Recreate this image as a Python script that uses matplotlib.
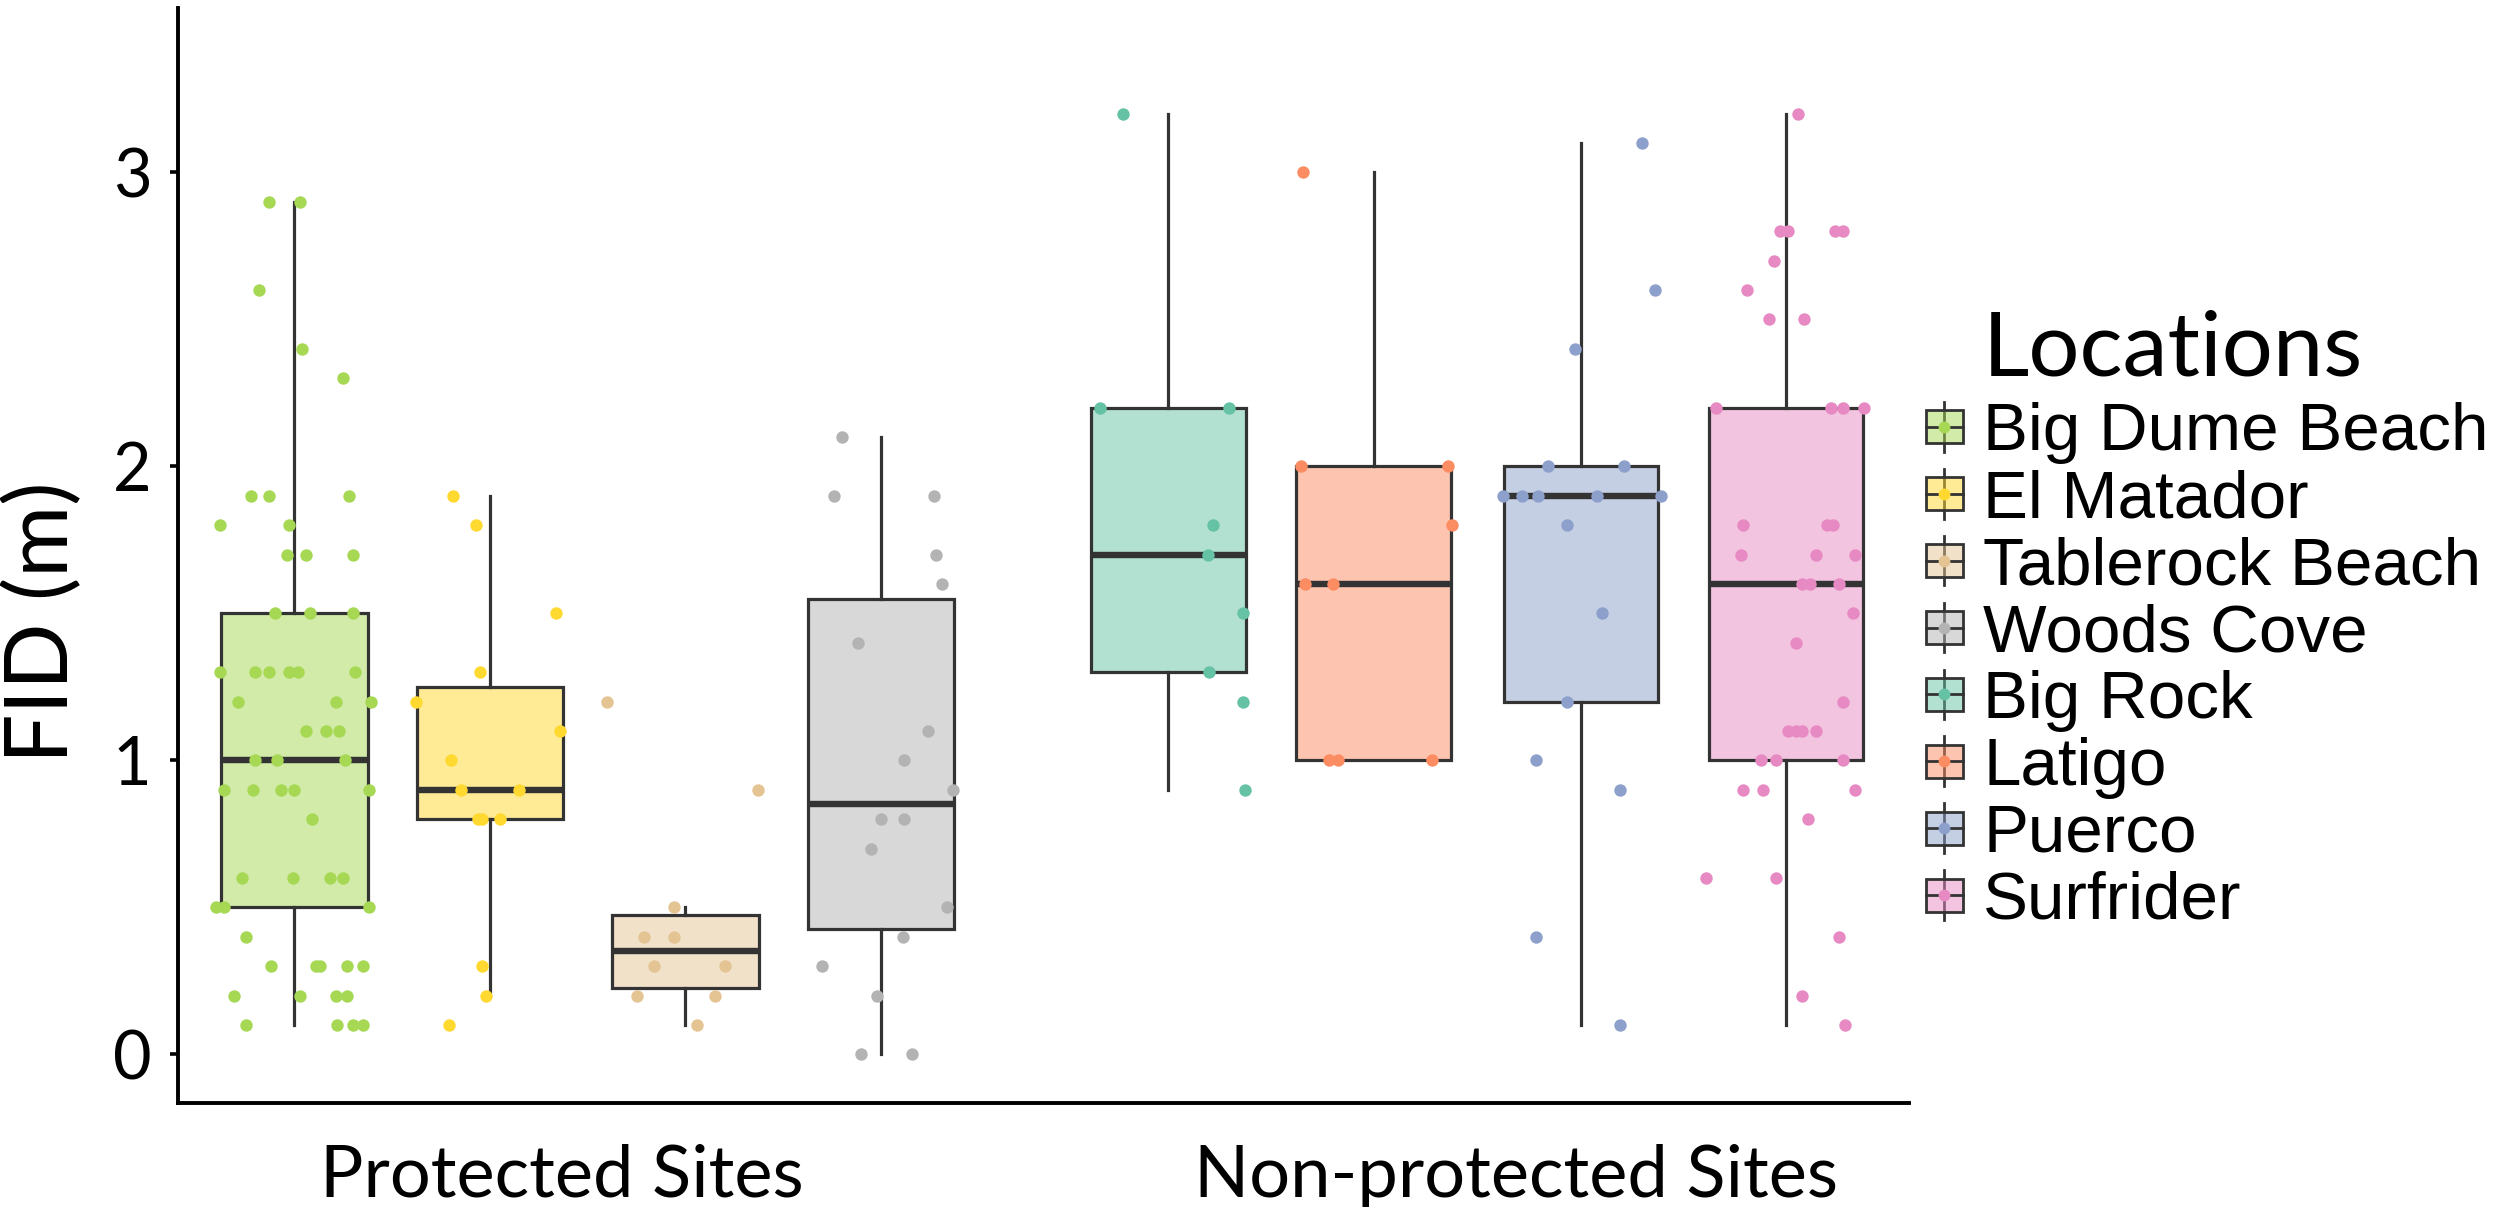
import matplotlib
matplotlib.use('Agg')
import matplotlib.pyplot as plt
from matplotlib.colors import to_rgba
from matplotlib.legend_handler import HandlerBase
from matplotlib.lines import Line2D
from matplotlib.patches import Patch, Rectangle

# categories
locations = ['Big Dume Beach', 'El Matador', 'Tablerock Beach', 'Woods Cove',
             'Big Rock', 'Latigo', 'Puerco', 'Surfrider']
sites = ['Protected Sites', 'Non-protected Sites']

# box statistics (FID in m)
medians = [1.0, 0.9, 0.35, 0.85, 1.7, 1.6, 1.9, 1.6]
q1 = [0.5, 0.8, 0.225, 0.425, 1.3, 1.0, 1.2, 1.0]
q3 = [1.5, 1.25, 0.475, 1.55, 2.2, 2.0, 2.0, 2.2]
whis_lo = [0.1, 0.2, 0.1, 0.0, 0.9, 1.0, 0.1, 0.1]
whis_hi = [2.9, 1.9, 0.5, 2.1, 3.2, 3.0, 3.1, 3.2]

# individual observations + horizontal jitter as drawn
big_dume = [2.9, 2.9, 2.6, 2.4, 2.3, 1.9, 1.9, 1.9, 1.8, 1.8, 1.7, 1.7, 1.7,
            1.5, 1.5, 1.5, 1.3, 1.3, 1.3, 1.3, 1.3, 1.3, 1.2, 1.2, 1.2, 1.1,
            1.1, 1.1, 1.0, 1.0, 1.0, 0.9, 0.9, 0.9, 0.9, 0.9, 0.8, 0.6, 0.6,
            0.6, 0.6, 0.5, 0.5, 0.5, 0.4, 0.3, 0.3, 0.3, 0.3, 0.3, 0.2, 0.2,
            0.2, 0.2, 0.1, 0.1, 0.1, 0.1]
big_dume_jit = [-0.13, 0.03, -0.18, 0.04, 0.25, -0.22, -0.13, 0.28, -0.38,
                -0.03, -0.04, 0.06, 0.30, -0.10, 0.08, 0.30, -0.38, -0.20,
                -0.13, -0.03, 0.02, 0.31, -0.29, 0.21, 0.39, 0.06, 0.16, 0.23,
                -0.20, -0.09, 0.26, -0.36, -0.21, -0.07, 0.00, 0.38, 0.09,
                -0.27, -0.01, 0.18, 0.25, -0.40, -0.36, 0.38, -0.25, -0.12,
                0.11, 0.13, 0.27, 0.35, -0.31, 0.03, 0.21, 0.27, -0.25, 0.22,
                0.30, 0.35]
el_matador = [1.9, 1.8, 1.5, 1.3, 1.2, 1.1, 1.0, 0.9, 0.9, 0.8, 0.8, 0.8,
              0.3, 0.2, 0.1]
el_matador_jit = [-0.19, -0.07, 0.34, -0.05, -0.38, 0.36, -0.20, -0.15, 0.15,
                  -0.06, -0.04, 0.05, -0.04, -0.02, -0.21]
tablerock = [1.2, 0.9, 0.5, 0.4, 0.4, 0.3, 0.3, 0.2, 0.2, 0.1]
tablerock_jit = [-0.40, 0.37, -0.06, -0.21, -0.06, -0.16, 0.20, -0.25, 0.15,
                 0.06]
woods_cove = [2.1, 1.9, 1.9, 1.7, 1.6, 1.4, 1.1, 1.0, 0.9, 0.8, 0.8, 0.7, 0.5,
              0.4, 0.3, 0.2, 0.0, 0.0]
woods_cove_jit = [-0.20, -0.24, 0.27, 0.28, 0.31, -0.12, 0.24, 0.12, 0.37,
                  0.00, 0.12, -0.05, 0.34, 0.11, -0.30, -0.02, -0.10, 0.16]
big_rock = [3.2, 2.2, 2.2, 1.8, 1.7, 1.5, 1.3, 1.2, 0.9]
big_rock_jit = [-0.23, -0.35, 0.31, 0.23, 0.20, 0.38, 0.21, 0.38, 0.39]
latigo = [3.0, 2.0, 2.0, 1.8, 1.6, 1.6, 1.0, 1.0, 1.0]
latigo_jit = [-0.36, -0.37, 0.38, 0.40, -0.35, -0.21, -0.23, -0.18, 0.30]
puerco = [3.1, 2.6, 2.4, 2.0, 2.0, 1.9, 1.9, 1.9, 1.9, 1.9, 1.8, 1.5, 1.2,
          1.0, 0.9, 0.4, 0.1]
puerco_jit = [0.31, 0.38, -0.03, -0.17, 0.22, -0.40, -0.30, -0.22, 0.08, 0.41,
              -0.07, 0.11, -0.07, -0.23, 0.20, -0.23, 0.20]
surfrider = [3.2, 2.8, 2.8, 2.8, 2.8, 2.7, 2.6, 2.5, 2.5, 2.2, 2.2, 2.2, 2.2,
             1.8, 1.8, 1.8, 1.7, 1.7, 1.7, 1.6, 1.6, 1.6, 1.5, 1.4, 1.2, 1.1,
             1.1, 1.1, 1.1, 1.0, 1.0, 1.0, 0.9, 0.9, 0.9, 0.8, 0.6, 0.6, 0.4,
             0.2, 0.1]
surfrider_jit = [0.06, -0.03, 0.01, 0.25, 0.29, -0.06, -0.20, -0.09, 0.09,
                 -0.36, 0.23, 0.29, 0.40, -0.22, 0.21, 0.24, -0.23, 0.15, 0.35,
                 0.08, 0.12, 0.27, 0.34, 0.05, 0.29, 0.01, 0.05, 0.08, 0.15,
                 -0.13, -0.05, 0.29, -0.22, -0.12, 0.35, 0.11, -0.41, -0.05,
                 0.27, 0.08, 0.30]

values = [big_dume, el_matador, tablerock, woods_cove,
          big_rock, latigo, puerco, surfrider]
jitter = [big_dume_jit, el_matador_jit, tablerock_jit, woods_cove_jit,
          big_rock_jit, latigo_jit, puerco_jit, surfrider_jit]

# layout
positions = [0, 1, 2, 3, 4.47, 5.52, 6.58, 7.63]
widths = [0.75] * 4 + [0.79] * 4
site_pos = [1.37, 6.25]
colors = ['#a6d854', '#ffd92f', '#e5c494', '#b3b3b3',
          '#66c2a5', '#fc8d62', '#8da0cb', '#e78ac3']
dark = '#333333'
main_font = 'Lato'

fig = plt.figure(figsize=(25, 12.07), dpi=100)
ax = fig.add_axes([0.0711, 0.0859, 0.6925, 0.9075])

stats = []
for i in range(len(locations)):
    stats.append(dict(med=medians[i], q1=q1[i], q3=q3[i],
                      whislo=whis_lo[i], whishi=whis_hi[i], fliers=[]))

bp = ax.bxp(stats, positions=positions, widths=widths, patch_artist=True,
            showfliers=False, showcaps=False,
            boxprops=dict(edgecolor=dark, linewidth=2.3),
            medianprops=dict(color=dark, linewidth=4.6, solid_capstyle='butt'),
            whiskerprops=dict(color=dark, linewidth=2.3))
for patch, c in zip(bp['boxes'], colors):
    patch.set_facecolor(to_rgba(c, 0.5))
    patch.set_zorder(2)

for i in range(len(locations)):
    xs = [positions[i] + j for j in jitter[i]]
    ax.scatter(xs, values[i], s=80, color=colors[i], linewidths=0, zorder=3)

ax.set_xlim(-0.597, 8.258)
ax.set_ylim(-0.1667, 3.559)
ax.set_yticks([0, 1, 2, 3])
ax.set_yticklabels(['0', '1', '2', '3'], fontfamily=main_font, fontsize=48)
ax.set_xticks(site_pos)
ax.set_xticklabels(sites, fontfamily=main_font, fontsize=52)
ax.tick_params(axis='x', length=0, pad=29)
ax.tick_params(axis='y', length=6, width=2.6, pad=13)
for side in ['top', 'right']:
    ax.spines[side].set_visible(False)
for side in ['left', 'bottom']:
    ax.spines[side].set_linewidth(2.8)

ax.set_ylabel('FID (m)', fontfamily=main_font, fontsize=63, va='center')
ax.yaxis.set_label_coords(-0.078, 0.439)


class BoxKey(HandlerBase):
    def create_artists(self, legend, orig_handle, xdescent, ydescent,
                       width, height, fontsize, trans):
        x0 = -xdescent
        y0 = -ydescent
        cx = x0 + width / 2
        cy = y0 + height / 2
        whisker = Line2D([cx, cx], [y0, y0 + height], color=dark, lw=2.0)
        box = Rectangle((x0, y0 + height / 6), width, height * 2 / 3,
                        facecolor=orig_handle.get_facecolor(),
                        edgecolor=dark, lw=2.0)
        med = Line2D([x0, x0 + width], [cy, cy], color=dark, lw=2.0)
        dot = Line2D([cx], [cy], marker='o', ms=8.5, lw=0,
                     markerfacecolor=orig_handle.get_edgecolor(),
                     markeredgewidth=0)
        artists = [whisker, box, med, dot]
        for a in artists:
            a.set_transform(trans)
        return artists


handles = [Patch(facecolor=to_rgba(c, 0.5), edgecolor=c) for c in colors]
leg = fig.legend(handles, locations, loc='upper left',
                 bbox_to_anchor=(0.7704, 0.6669),
                 frameon=False, borderpad=0, borderaxespad=0,
                 handlelength=0.549, handleheight=0.757, handletextpad=0.3,
                 labelspacing=0.068,
                 prop={'family': 'Liberation Sans', 'size': 48.5},
                 handler_map={Patch: BoxKey()})

fig.text(0.7932, 0.6885, 'Locations', fontfamily=main_font, fontsize=65,
         ha='left', va='baseline')

fig.savefig('out.png', dpi=100)
